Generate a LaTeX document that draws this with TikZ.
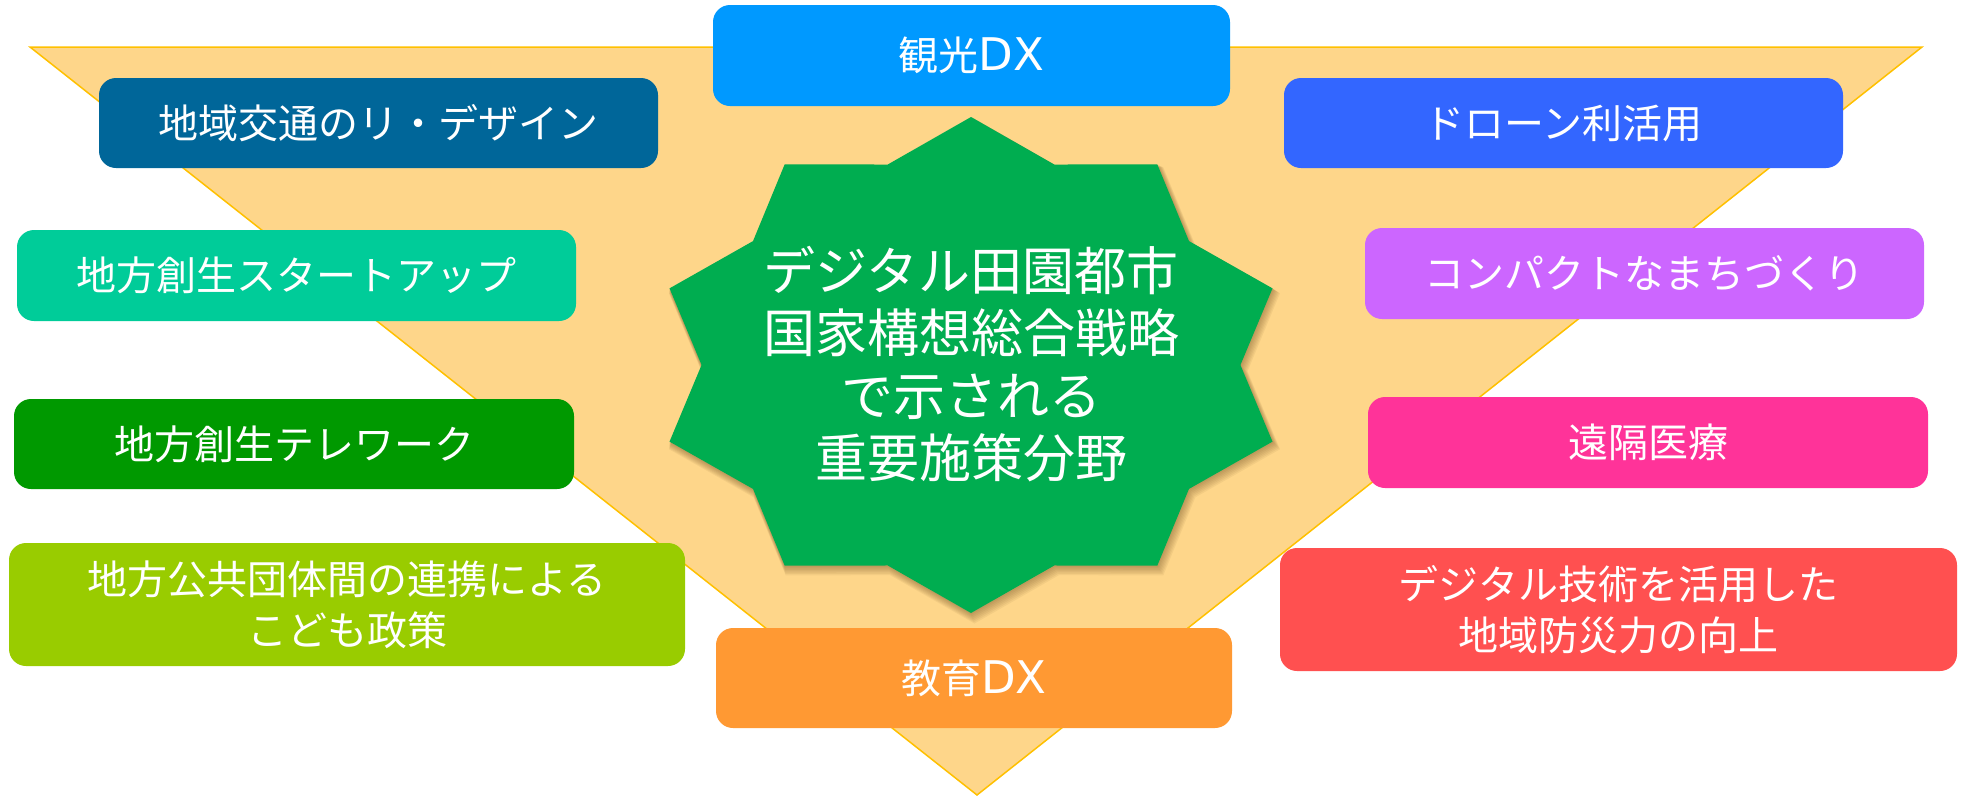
\documentclass[tikz,border=0pt]{standalone}
\usepackage{fontspec}
\setmainfont{Noto Sans CJK JP}
\newfontfamily\latinwide{DejaVu Sans}
\definecolor{trifill}{HTML}{FED68A}
\definecolor{triedge}{HTML}{FFC000}
\definecolor{stargreen}{HTML}{00AD50}
\definecolor{shadowcol}{HTML}{6B4A1E}
\definecolor{cSky}{HTML}{0099FF}
\definecolor{cNavy}{HTML}{006699}
\definecolor{cBlue}{HTML}{3366FF}
\definecolor{cTeal}{HTML}{00CC99}
\definecolor{cPurple}{HTML}{CC66FF}
\definecolor{cGreen}{HTML}{009900}
\definecolor{cPink}{HTML}{FF3399}
\definecolor{cLime}{HTML}{99CC00}
\definecolor{cRed}{HTML}{FF5050}
\definecolor{cOrange}{HTML}{FF9933}
\newcommand\starpoly{({cos(90)},{sin(90)}) \foreach \k in {0,...,9} { -- ({0.85*cos(108+36*\k)},{0.85*sin(108+36*\k)}) -- ({cos(126+36*\k)},{sin(126+36*\k)}) } -- cycle}
\newcommand\dxtext{{\latinwide\fontsize{45}{51}\selectfont DX}}
\tikzset{
  box/.style={rectangle, rounded corners=17pt, inner sep=0pt, text=white, align=center,
    font=\fontsize{40}{51}\selectfont},
  centertext/.style={inner sep=0pt, text=white, align=center, font=\fontsize{52}{62.5}\selectfont}
}
\begin{document}
\begin{tikzpicture}[x=1pt,y=-1pt]
\useasboundingbox (0,0) rectangle (1968,796);
% background triangle
\filldraw[fill=trifill, draw=triedge, line width=1.5pt, line join=miter] (30,47) -- (1922,47) -- (977,795) -- cycle;
% star shadow
\foreach \i [evaluate=\i as \rx using 317+\i*0.6, evaluate=\i as \ry using 248+\i*0.6, evaluate=\i as \sx using 971+\i*0.5, evaluate=\i as \sy using 365+\i*0.9] in {1,...,7} {
  \begin{scope}[shift={(\sx,\sy)}, x=\rx pt, y=\ry pt]
    \fill[shadowcol, opacity=0.07] \starpoly;
  \end{scope}
}
% star
\begin{scope}[shift={(971,365)}, x=317pt, y=248pt]
  \fill[stargreen] \starpoly;
\end{scope}
\node[centertext] (center) at (971,364) {デジタル田園都市\\国家構想総合戦略\\で示される\\重要施策分野};
% boxes
\node[box, fill=cSky, minimum width=517pt, minimum height=101pt] (kanko) at (971.5,55.5) {観光\dxtext};
\node[box, fill=cOrange, minimum width=516pt, minimum height=100pt] (kyoiku) at (974,678) {教育\dxtext};
\node[box, fill=cNavy, minimum width=559pt, minimum height=90pt] (chiiki) at (378.5,123) {地域交通のリ・デザイン};
\node[box, fill=cBlue, minimum width=559pt, minimum height=90pt] (drone) at (1563.5,123) {ドローン利活用};
\node[box, fill=cTeal, minimum width=559pt, minimum height=91pt] (startup) at (296.5,275.5) {地方創生スタートアップ};
\node[box, fill=cPurple, minimum width=559pt, minimum height=91pt] (compact) at (1644.5,273.5) {コンパクトなまちづくり};
\node[box, fill=cGreen, minimum width=560pt, minimum height=90pt] (telework) at (294,444) {地方創生テレワーク};
\node[box, fill=cPink, minimum width=560pt, minimum height=91pt] (iryo) at (1648,442.5) {遠隔医療};
\node[box, fill=cLime, minimum width=676pt, minimum height=123pt] (kodomo) at (347,604.5) {地方公共団体間の連携による\\こども政策};
\node[box, fill=cRed, minimum width=677pt, minimum height=123pt] (bousai) at (1618.5,609.5) {デジタル技術を活用した\\地域防災力の向上};
\end{tikzpicture}
\end{document}
